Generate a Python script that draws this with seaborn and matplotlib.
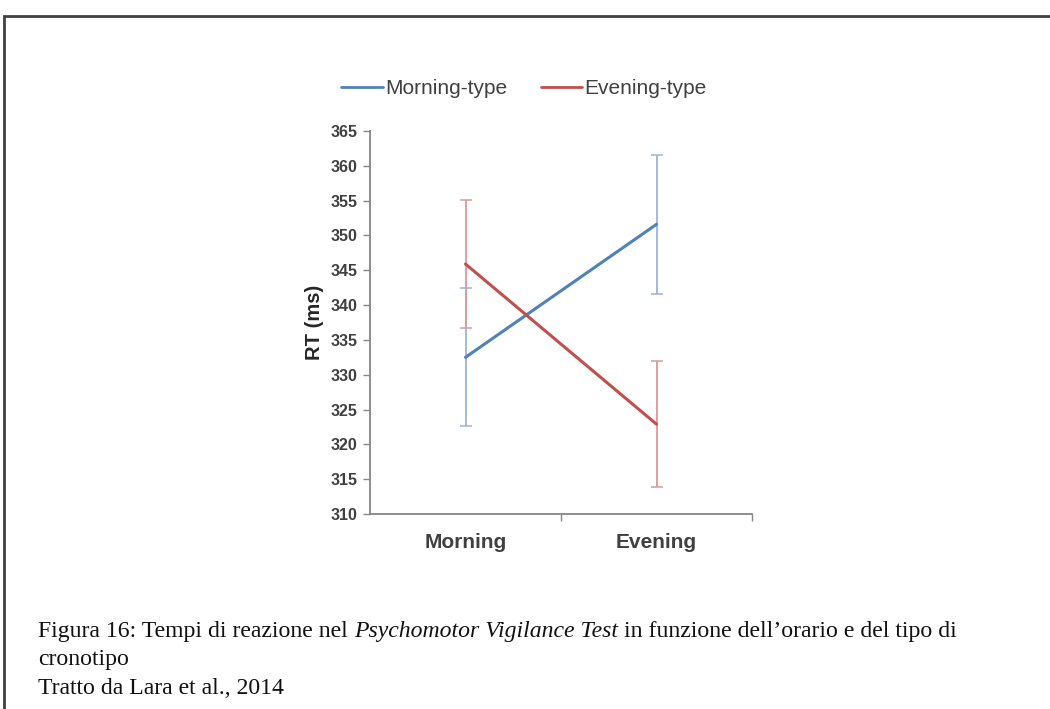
import matplotlib
matplotlib.use("Agg")
import matplotlib.pyplot as plt
import seaborn as sns
import pandas as pd
from matplotlib.patches import Rectangle
from matplotlib.lines import Line2D

categories = ["Morning", "Evening"]
morning_type = [332.5, 351.6]
morning_type_err = [9.9, 10.0]
evening_type = [345.9, 322.9]
evening_type_err = [9.2, 9.0]
series_names = ["Morning-type", "Evening-type"]
y_ticks = [310, 315, 320, 325, 330, 335, 340, 345, 350, 355, 360, 365]

df = pd.DataFrame({
    "time": categories * 2,
    "rt": morning_type + evening_type,
    "err": morning_type_err + evening_type_err,
    "group": [series_names[0]] * 2 + [series_names[1]] * 2,
})

sns.set_style("white")
plt.rcParams["font.family"] = ["Liberation Sans", "DejaVu Sans"]

blue = "#4F81BD"
red = "#C0504D"
palette = {series_names[0]: blue, series_names[1]: red}
err_palette = {series_names[0]: "#9DB3D8", series_names[1]: "#D99A98"}

fig = plt.figure(figsize=(10.5, 7.09), dpi=100)
ax = fig.add_axes([370 / 1050, 1 - 514 / 709, (752 - 370) / 1050, (514 - 131) / 709])

sns.lineplot(data=df, x="time", y="rt", hue="group", palette=palette,
             linewidth=2.2, ax=ax, legend=False, sort=False, zorder=3)

pos = {c: i for i, c in enumerate(categories)}
for g in series_names:
    sub = df[df.group == g]
    ax.errorbar([pos[t] for t in sub.time], sub.rt, yerr=sub.err, fmt="none",
                ecolor=err_palette[g], elinewidth=1.3, capsize=4.5, capthick=1.1, zorder=2)

ax.set_xlim(-0.5, 1.5)
ax.set_ylim(310, 365)
ax.set_yticks(y_ticks)
ax.set_yticklabels([str(v) for v in y_ticks], fontsize=11.5, fontweight="bold", color="#404040")
ax.set_xticks([0.5, 1.5], minor=False)
ax.set_xticklabels([])
ax.set_xticks([0, 1], minor=True)
ax.set_xticklabels(categories, minor=True, fontsize=15, fontweight="bold", color="#404040")
ax.tick_params(axis="x", which="minor", length=0, pad=14, bottom=True)
ax.tick_params(axis="x", which="major", length=5, color="#868686", width=1, direction="out", bottom=True)
ax.tick_params(axis="y", length=5, color="#868686", width=1, direction="out", pad=4, left=True)
ax.set_xlabel("")
ax.set_ylabel("RT (ms)", fontsize=14.5, fontweight="bold", color="#262626", labelpad=5)

for s in ["top", "right"]:
    ax.spines[s].set_visible(False)
for s in ["left", "bottom"]:
    ax.spines[s].set_color("#868686")
    ax.spines[s].set_linewidth(1.3)

handles = [Line2D([0], [0], color=blue, lw=2), Line2D([0], [0], color=red, lw=2)]
fig.legend(handles, series_names, loc="center", bbox_to_anchor=(524 / 1050, 1 - 89 / 709),
           ncol=2, frameon=False, fontsize=15, handlelength=2.0, handletextpad=0.1,
           columnspacing=1.6, labelcolor="#404040")

fig.add_artist(Rectangle((4 / 1050, -0.05), 1.2, 1 - 16 / 709 + 0.05, transform=fig.transFigure,
                         fill=False, edgecolor="#404040", linewidth=2))

cap_font = ["Liberation Serif", "DejaVu Serif"]
cap_size = 17.1
renderer = fig.canvas.get_renderer()
y1 = 1 - 632 / 709
parts = [("Figura 16: Tempi di reazione nel ", "normal"),
         ("Psychomotor Vigilance Test", "italic"),
         (" in funzione dell\u2019orario e del tipo di", "normal")]
x = 38 / 1050
for txt, style in parts:
    t = fig.text(x, y1, txt, fontsize=cap_size, family=cap_font, style=style, va="center", color="#111111")
    bb = t.get_window_extent(renderer=renderer)
    x += bb.width / 1050
fig.text(38 / 1050, 1 - 659 / 709, "cronotipo", fontsize=cap_size, family=cap_font, va="center", color="#111111")
fig.text(38 / 1050, 1 - 688 / 709, "Tratto da Lara et al., 2014", fontsize=cap_size, family=cap_font,
         va="center", color="#111111")

fig.savefig("out.png", dpi=100)
